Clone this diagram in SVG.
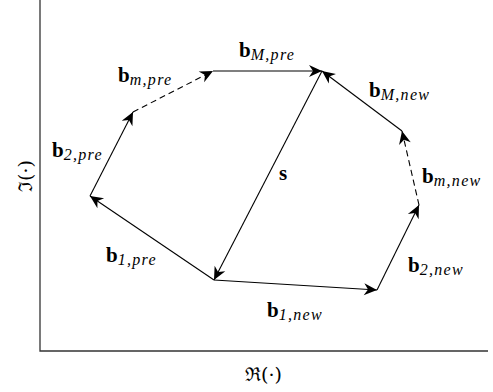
<svg xmlns="http://www.w3.org/2000/svg" width="493" height="392" viewBox="0 0 493 392">
<style>
.ax{stroke:#333;stroke-width:1.3;fill:none}
.v{stroke:#000;stroke-width:1.1;fill:none;marker-end:url(#ah)}
.d{stroke-dasharray:6 4}
.lab{font-family:"Liberation Serif","DejaVu Serif",serif;fill:#000}
.b{font-weight:bold;font-size:21px}
.sub{font-style:italic;font-size:16px;letter-spacing:1.3px}
.fr{font-family:"DejaVu Serif","Liberation Serif",serif;font-size:19px;fill:#000}
</style>
<defs>
<marker id="ah" markerUnits="userSpaceOnUse" markerWidth="16" markerHeight="16" viewBox="-14 -8 16 16" refX="0" refY="0" orient="auto">
<path d="M0,0 L-13,-6 L-9,0 L-13,6 Z" fill="#000"/>
</marker>
</defs>
<g id="axes">
<path class="ax" d="M40,0 V351 H488"/>
<text class="fr" x="245" y="381">ℜ(·)</text>
<text class="fr" transform="translate(32,176) rotate(-90)" text-anchor="middle">ℑ(·)</text>
</g>
<g id="connectors">
<line class="v" x1="214" y1="280" x2="90" y2="196"/>
<line class="v" x1="90" y1="196" x2="133" y2="112"/>
<line class="v d" x1="133" y1="112" x2="213" y2="71"/>
<line class="v" x1="213" y1="71" x2="322" y2="71"/>
<line class="v" x1="322" y1="71" x2="214" y2="280"/>
<line class="v" x1="214" y1="280" x2="377" y2="290"/>
<line class="v" x1="377" y1="290" x2="419" y2="205"/>
<line class="v d" x1="419" y1="205" x2="402" y2="131"/>
<line class="v" x1="402" y1="131" x2="322" y2="71"/>
</g>
<g id="b1pre"><text class="lab" x="106" y="262"><tspan class="b">b</tspan><tspan class="sub" dy="3">1,pre</tspan></text></g>
<g id="b2pre"><text class="lab" x="52" y="157"><tspan class="b">b</tspan><tspan class="sub" dy="3">2,pre</tspan></text></g>
<g id="bmpre"><text class="lab" x="118" y="82"><tspan class="b">b</tspan><tspan class="sub" dy="3">m,pre</tspan></text></g>
<g id="bMpre"><text class="lab" x="239" y="57"><tspan class="b">b</tspan><tspan class="sub" dy="3">M,pre</tspan></text></g>
<g id="s"><text class="lab b" x="279" y="180">s</text></g>
<g id="bMnew"><text class="lab" x="369" y="97"><tspan class="b">b</tspan><tspan class="sub" dy="3">M,new</tspan></text></g>
<g id="bmnew"><text class="lab" x="422" y="183"><tspan class="b">b</tspan><tspan class="sub" dy="3">m,new</tspan></text></g>
<g id="b2new"><text class="lab" x="408" y="272"><tspan class="b">b</tspan><tspan class="sub" dy="3">2,new</tspan></text></g>
<g id="b1new"><text class="lab" x="267" y="317"><tspan class="b">b</tspan><tspan class="sub" dy="3">1,new</tspan></text></g>
</svg>
